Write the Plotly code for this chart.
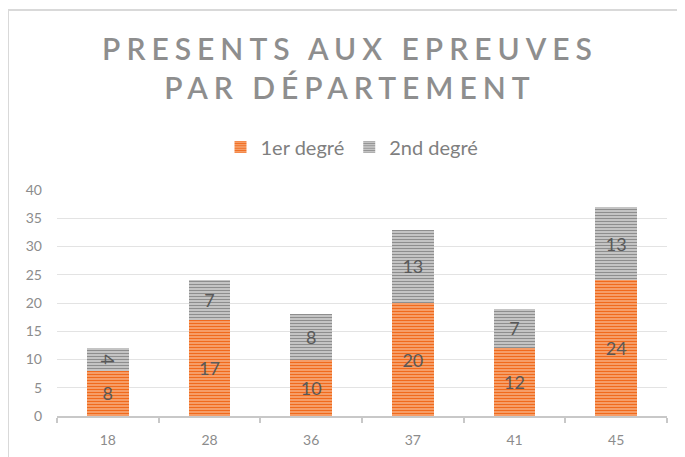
import plotly.graph_objects as go

departements = ["18", "28", "36", "37", "41", "45"]
premier_degre = [8, 17, 10, 20, 12, 24]
second_degre = [4, 7, 8, 13, 7, 13]
y_ticks = [0, 5, 10, 15, 20, 25, 30, 35, 40]

# page body has an 8px margin: figure is drawn at screen offset (8, 8)
OFF = 8
W, H = 685 - OFF, 457 - OFF
L, R, T, B = 57 - OFF, 18, 190 - OFF, 41

fig = go.Figure()
fig.add_trace(go.Bar(
    x=departements, y=premier_degre, name="1er degré",
    marker=dict(color="#f4873f",
                pattern=dict(shape="-", fgcolor="#f06a1c", bgcolor="#f9ae80",
                             size=3, solidity=0.5, fillmode="replace"),
                line=dict(width=0)),
    text=premier_degre, textposition="inside", insidetextanchor="middle",
    textfont=dict(color="#595959", size=18, family="Lato"),
    width=0.41,
))
fig.add_trace(go.Bar(
    x=departements, y=second_degre, name="2nd degré",
    marker=dict(color="#b0b0b0",
                pattern=dict(shape="-", fgcolor="#8e8e8e", bgcolor="#d6d6d6",
                             size=3, solidity=0.5, fillmode="replace"),
                line=dict(width=0)),
    text=second_degre, textposition="inside", insidetextanchor="middle",
    textfont=dict(color="#595959", size=18, family="Lato"),
    width=0.41,
))

pw = W - L - R
ph = H - T - B
def px_x(p):  # screen px -> paper x
    return (p - OFF - L) / pw
def px_y(p):  # screen px -> paper y
    return (H - B - (p - OFF)) / ph

fig.update_layout(
    width=W, height=H,
    barmode="stack",
    paper_bgcolor="white", plot_bgcolor="white",
    margin=dict(l=L, r=R, t=T, b=B, autoexpand=False),
    font=dict(family="Lato", color="#8c8c8c"),
    title=dict(
        text='<span style="letter-spacing:6px">PRESENTS AUX EPREUVES</span><br>'
             '<span style="letter-spacing:6px">PAR DÉPARTEMENT</span>',
        x=(350 - OFF) / W, xref="container", xanchor="center",
        y=1 - 51.5 / H, yref="container", yanchor="middle",
        font=dict(family="Lato", size=30, color="#8e8e8e", weight=600),
    ),
    legend=dict(
        orientation="h", x=(352 - OFF) / W, xref="container", xanchor="center",
        y=1 - (147 - OFF) / H, yref="container", yanchor="middle",
        font=dict(size=20, color="#7f7f7f", family="Lato"),
        traceorder="normal", itemwidth=30, itemsizing="constant",
    ),
    showlegend=True,
    xaxis=dict(
        showgrid=False, showline=True, linecolor="#c8c8c8", linewidth=2,
        ticks="outside", tickson="boundaries", ticklen=5, tickwidth=1.5,
        tickcolor="#c8c8c8", tickfont=dict(size=14, color="#8c8c8c"),
        ticklabelstandoff=10, automargin=False,
    ),
    yaxis=dict(
        range=[0, 40], tickvals=y_ticks, showgrid=True, gridcolor="#e3e3e3",
        gridwidth=1, zeroline=False, showline=False, automargin=False,
        tickfont=dict(size=14, color="#8c8c8c"), ticklabelstandoff=14,
    ),
    bargap=0.59,
    shapes=[
        dict(type="line", xref="paper", yref="paper",
             x0=px_x(8), x1=px_x(8), y0=px_y(10), y1=px_y(470),
             line=dict(color="#d9d9d9", width=2)),
        dict(type="line", xref="paper", yref="paper",
             x0=px_x(8), x1=px_x(700), y0=px_y(10), y1=px_y(10),
             line=dict(color="#d9d9d9", width=2)),
    ],
)

fig.write_html("out.html")
